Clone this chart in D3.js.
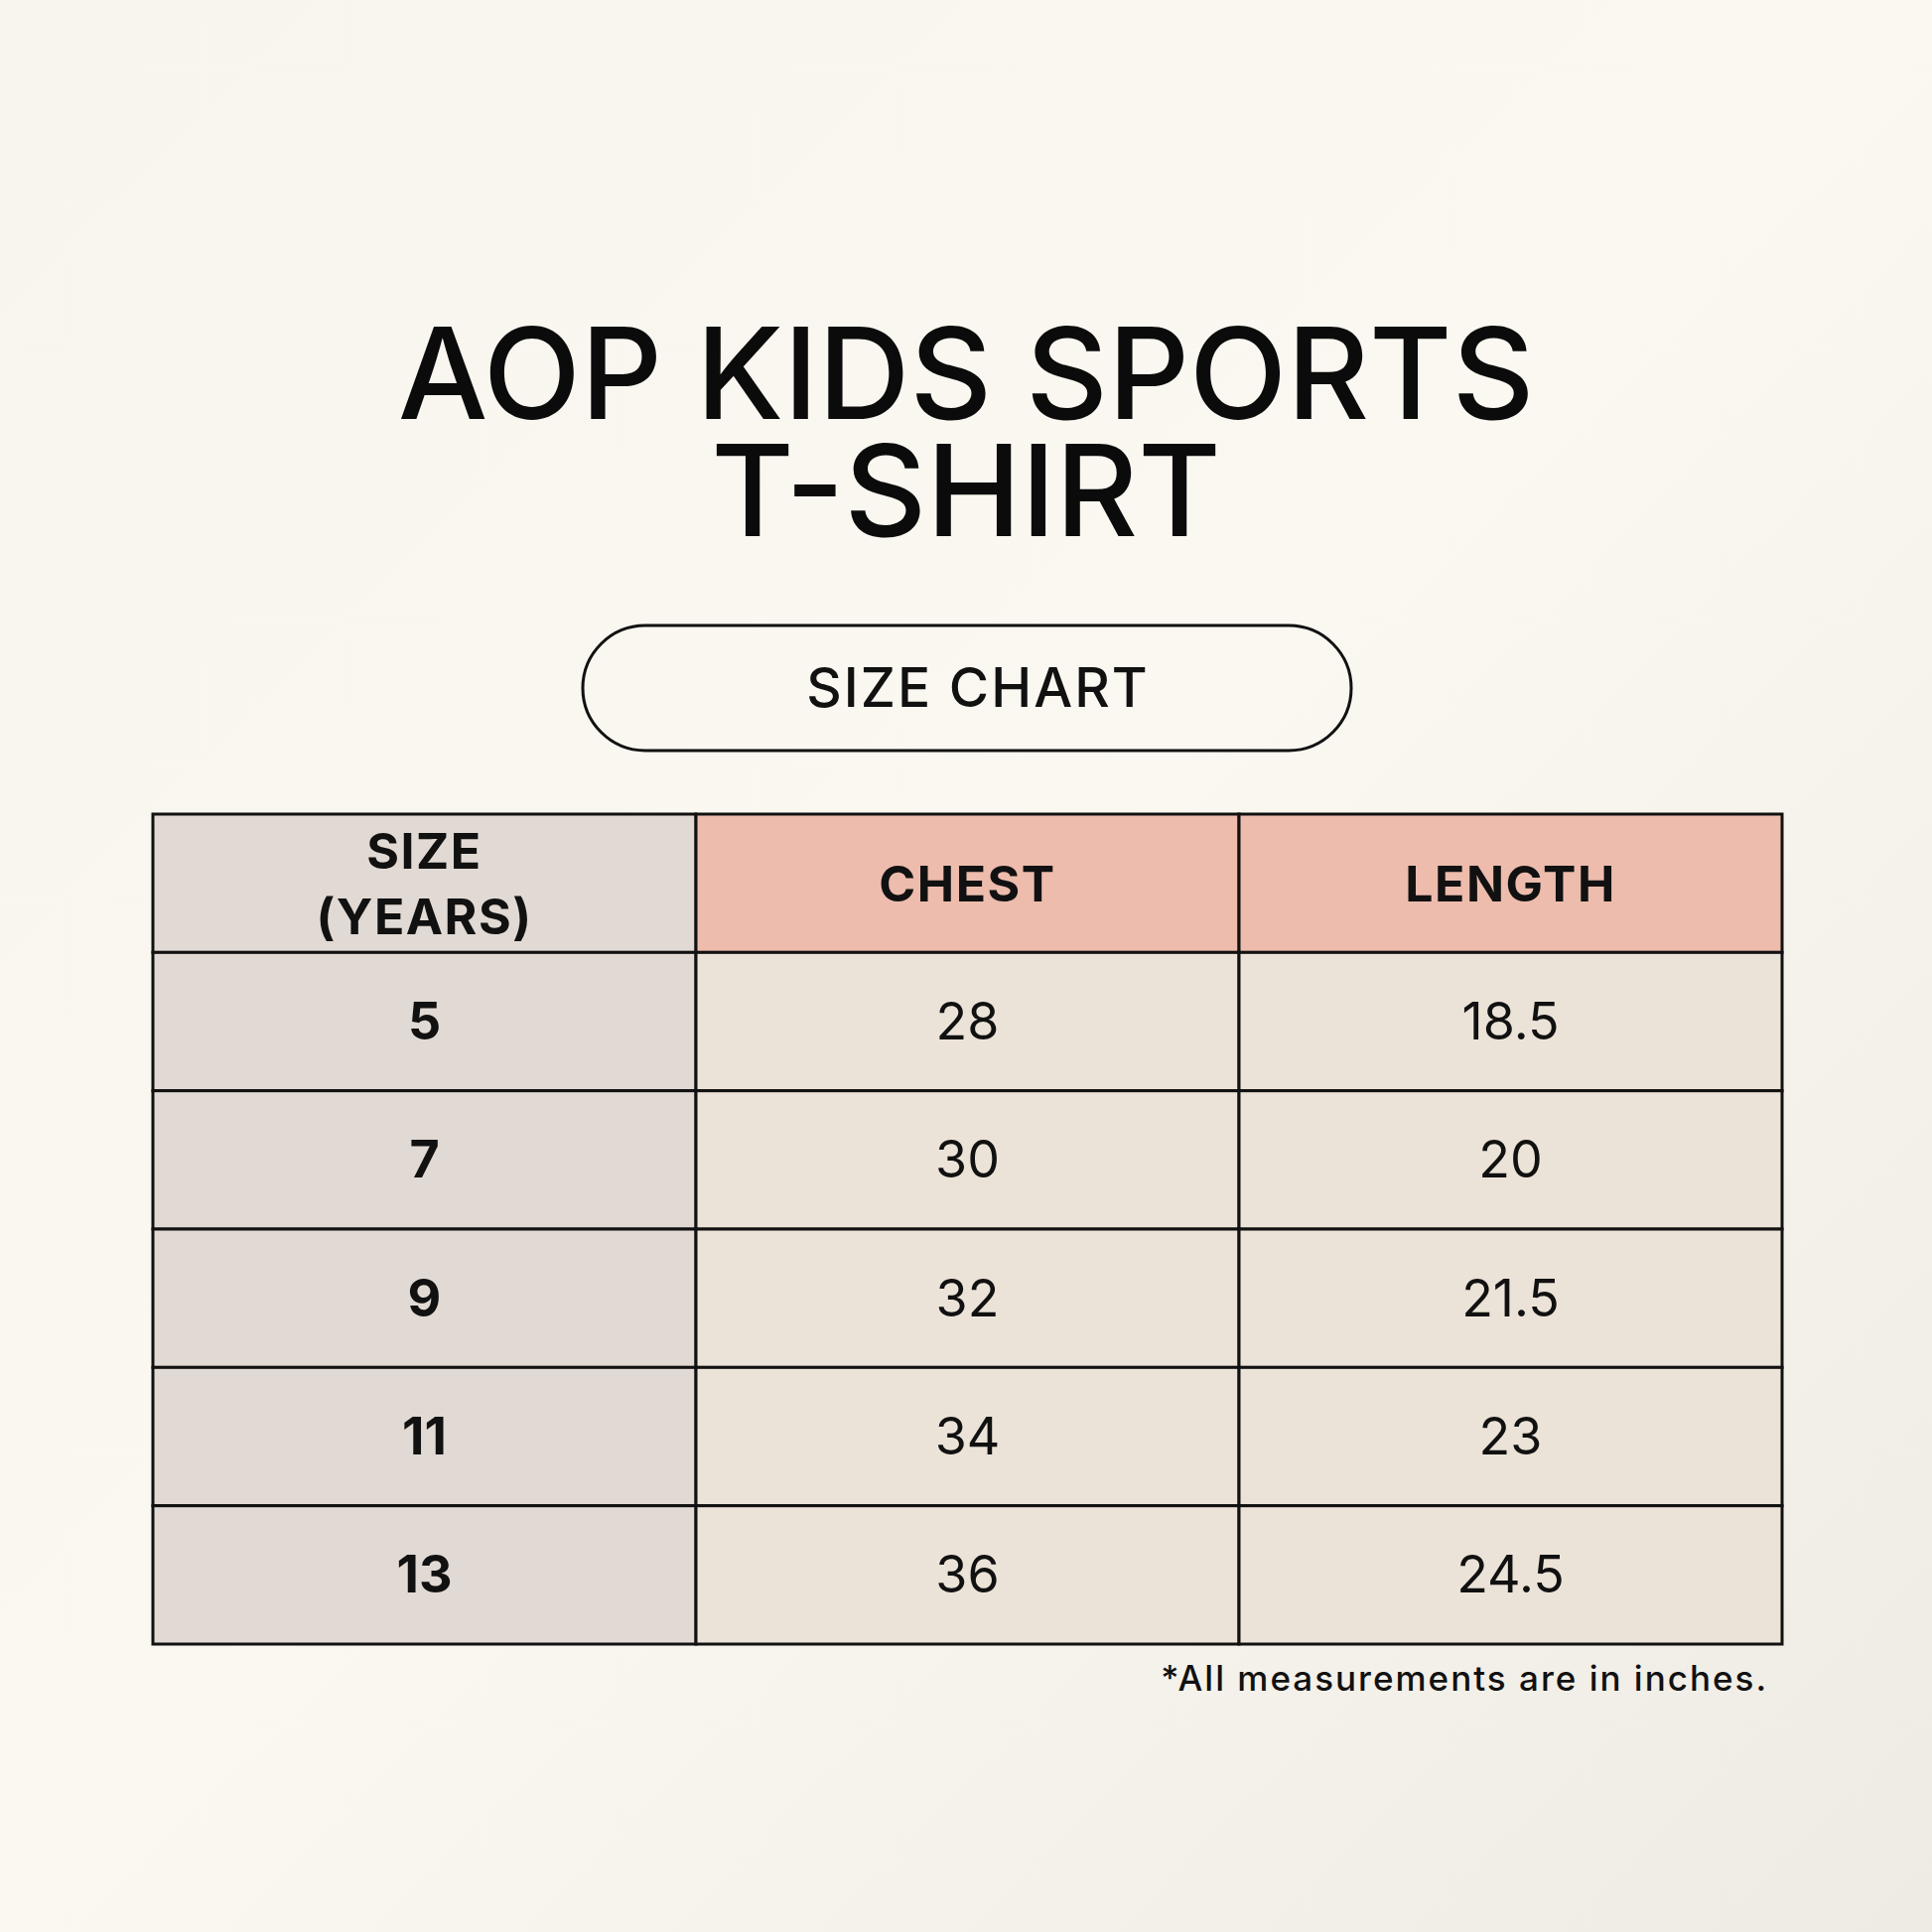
<!DOCTYPE html>
<html><head><meta charset="utf-8">
<script src="https://cdn.jsdelivr.net/npm/d3@7"></script>
<style>body{margin:0;background:#f8f6ef}svg{display:block}</style>
</head><body>
<script>
const titleLines = ["AOP KIDS SPORTS", "T-SHIRT"];
const badge = "SIZE CHART";
const columns = ["SIZE\n(YEARS)", "CHEST", "LENGTH"];
const sizes = ["5", "7", "9", "11", "13"];
const chest = [28, 30, 32, 34, 36];
const lengthVals = [18.5, 20, 21.5, 23, 24.5];
const footnote = "*All measurements are in inches.";

const W = 1946, H = 1946;
const svg = d3.select("body").append("svg").attr("width", W).attr("height", H);
const defs = svg.append("defs");
const g = defs.append("linearGradient").attr("id","bg").attr("x1","0").attr("y1","0").attr("x2","1").attr("y2","1");
g.append("stop").attr("offset","0").attr("stop-color","#f7f5ee");
g.append("stop").attr("offset","0.5").attr("stop-color","#faf8f1");
g.append("stop").attr("offset","1").attr("stop-color","#eeebe4");
svg.append("rect").attr("width",W).attr("height",H).attr("fill","url(#bg)");

const font = "Inter, 'Liberation Sans', sans-serif";
svg.selectAll("text.title").data(titleLines).join("text")
  .attr("x", 973).attr("y", (d,i)=>422 + i*118)
  .attr("text-anchor","middle").attr("font-family",font).attr("font-weight",500)
  .attr("font-size",128).attr("fill","#0b0b0b").text(d=>d);

svg.append("rect").attr("x",587).attr("y",630).attr("width",774).attr("height",126)
  .attr("rx",63).attr("fill","none").attr("stroke","#111").attr("stroke-width",3);
svg.append("text").attr("x",985).attr("y",712).attr("text-anchor","middle")
  .attr("font-family",font).attr("font-weight",500).attr("font-size",55)
  .attr("letter-spacing",2).attr("fill","#111").text(badge);

const x = d3.scaleBand().domain(d3.range(3)).range([154,1795]);
const rowsKeys = ["h"].concat(sizes);
const y = d3.scaleBand().domain(rowsKeys).range([820,1656]);
const rows = [columns].concat(sizes.map((s,i)=>[s, String(chest[i]), String(lengthVals[i])]));

rows.forEach((r,ri)=>{
  r.forEach((v,ci)=>{
    const fill = ci===0 ? "#e1d9d3" : (ri===0 ? "#edbcad" : "#ece3d8");
    svg.append("rect").attr("x",x(ci)).attr("y",y(rowsKeys[ri]))
      .attr("width",x.bandwidth()).attr("height",y.bandwidth())
      .attr("fill",fill).attr("stroke","#111").attr("stroke-width",3);
    const lines = v.split("\n");
    const cx = x(ci)+x.bandwidth()/2, cy = y(rowsKeys[ri])+y.bandwidth()/2;
    const lh = 66;
    const t = svg.append("text").attr("text-anchor","middle").attr("font-family",font)
      .attr("font-size",ri===0?50:52).attr("font-weight",(ri===0||ci===0)?700:400)
      .attr("letter-spacing",ri===0?1.5:0).attr("fill","#111");
    lines.forEach((l,li)=>{
      t.append("tspan").attr("x",cx).attr("y",cy + 18 + (li-(lines.length-1)/2)*lh).text(l);
    });
  });
});

svg.append("text").attr("x",1781).attr("y",1703).attr("text-anchor","end")
  .attr("font-family",font).attr("font-weight",500).attr("font-size",35)
  .attr("letter-spacing",2).attr("fill","#111").text(footnote);
</script>
</body></html>
